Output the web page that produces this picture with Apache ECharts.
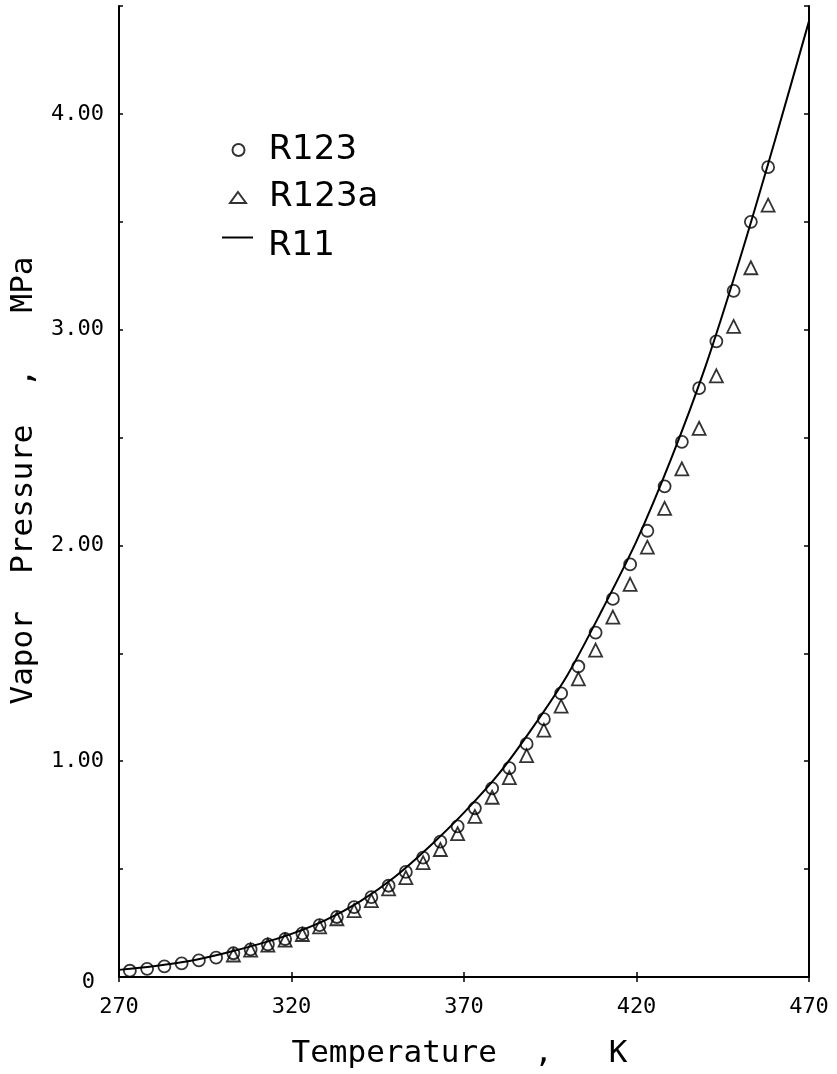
<!DOCTYPE html>
<html>
<head>
<meta charset="utf-8">
<script src="https://cdn.jsdelivr.net/npm/echarts@6/dist/echarts.min.js"></script>
<style>
html,body{margin:0;padding:0;background:#fff;}
#chart{width:837px;height:1074px;}
</style>
</head>
<body>
<div id="chart"></div>
<script>
// R123 (circles)
const r123T = [273.15, 278.15, 283.15, 288.15, 293.15, 298.15, 303.15, 308.15, 313.15, 318.15,
               323.15, 328.15, 333.15, 338.15, 343.15, 348.15, 353.15, 358.15, 363.15, 368.15,
               373.15, 378.15, 383.15, 388.15, 393.15, 398.15, 403.15, 408.15, 413.15, 418.15,
               423.15, 428.15, 433.15, 438.15, 443.15, 448.15, 453.15, 458.15];
const r123P = [0.029, 0.038, 0.049, 0.063, 0.077, 0.090, 0.110, 0.128, 0.151, 0.176,
               0.202, 0.240, 0.278, 0.324, 0.370, 0.423, 0.487, 0.553, 0.627, 0.698,
               0.782, 0.874, 0.968, 1.080, 1.195, 1.314, 1.439, 1.596, 1.752, 1.912,
               2.068, 2.274, 2.480, 2.729, 2.946, 3.180, 3.500, 3.753];
// R123a (triangles)
const r123aT = [303.15, 308.15, 313.15, 318.15, 323.15, 328.15, 333.15, 338.15, 343.15, 348.15,
                353.15, 358.15, 363.15, 368.15, 373.15, 378.15, 383.15, 388.15, 393.15, 398.15,
                403.15, 408.15, 413.15, 418.15, 423.15, 428.15, 433.15, 438.15, 443.15, 448.15,
                453.15, 458.15];
const r123aP = [0.102, 0.125, 0.148, 0.171, 0.197, 0.232, 0.270, 0.308, 0.354, 0.408,
                0.461, 0.530, 0.591, 0.664, 0.744, 0.833, 0.924, 1.026, 1.144, 1.255,
                1.382, 1.515, 1.668, 1.820, 1.992, 2.172, 2.355, 2.543, 2.786, 3.015,
                3.287, 3.577];
// R11 (line)
const r11T = [270, 280, 290, 300, 310, 320, 330, 340, 350, 360, 370,
              380, 390, 400, 410, 420, 430, 440, 450, 460, 470];
const r11P = [0.033, 0.050, 0.073, 0.108, 0.150, 0.200, 0.265, 0.352, 0.465, 0.605, 0.762,
              0.940, 1.158, 1.400, 1.700, 2.020, 2.400, 2.830, 3.330, 3.870, 4.430];

const xTicks = [270, 320, 370, 420, 470];
const yTickLabels = ['0', '1.00', '2.00', '3.00', '4.00'];
const seriesNames = ['R123', 'R123a', 'R11'];
const xTitle = 'Temperature  ,   K';
const yTitle = 'Vapor  Pressure  ,   MPa';

const zip = (a, b) => a.map((v, i) => [v, b[i]]);
const MONO = 'DejaVu Sans Mono';
const axisLineStyle = {color: '#000', width: 2};
const legendTextBase = {fontFamily: 'DejaVu Sans', fontSize: 34, color: '#000', lineHeight: 34};
const hollow = {color: 'rgba(0,0,0,0)', borderColor: '#000', borderWidth: 2};

const chart = echarts.init(document.getElementById('chart'), null, {renderer: 'canvas'});
chart.setOption({
  backgroundColor: '#fff',
  animation: false,
  grid: {left: 118, right: 28, top: 6, bottom: 85, containLabel: false},
  legend: [{
    orient: 'vertical', left: 231.5, top: 133, padding: 0,
    itemWidth: 12, itemHeight: 12, selectedMode: false, symbolKeepAspect: true,
    data: [{name: seriesNames[0], icon: 'circle'}],
    itemStyle: hollow,
    textStyle: Object.assign({}, legendTextBase, {padding: [0, 0, 0, 19]})
  }, {
    orient: 'vertical', left: 229, top: 180.5, padding: 0,
    itemWidth: 16, itemHeight: 11, selectedMode: false, symbolKeepAspect: false,
    data: [{name: seriesNames[1], icon: 'triangle'}],
    itemStyle: hollow,
    textStyle: Object.assign({}, legendTextBase, {padding: [0, 0, 0, 18]})
  }, {
    orient: 'vertical', left: 222, top: 229.5, padding: 0,
    itemWidth: 31, itemHeight: 20, selectedMode: false, symbolKeepAspect: false,
    data: [{name: seriesNames[2], icon: 'path://M0,0L31,0L31,2L0,2ZM0,20'}],
    itemStyle: {color: '#000', borderWidth: 0},
    lineStyle: {width: 0},
    textStyle: Object.assign({}, legendTextBase, {padding: [0, 0, 0, 10]})
  }],
  xAxis: [{
    type: 'value', position: 'bottom', min: xTicks[0], max: xTicks[xTicks.length - 1], interval: 50,
    axisLine: {show: true, lineStyle: axisLineStyle},
    axisTick: {show: true, inside: true, length: 5, lineStyle: {color: '#000', width: 1.5}},
    axisLabel: {show: true, fontFamily: MONO, fontSize: 22, color: '#000', margin: 19,
                showMinLabel: true, showMaxLabel: true},
    splitLine: {show: false},
    name: xTitle, nameLocation: 'middle', nameGap: 61,
    nameTextStyle: {fontFamily: MONO, fontSize: 31, color: '#000', padding: [0, 9, 0, 0]}
  }, {
    type: 'value', position: 'top', min: xTicks[0], max: xTicks[xTicks.length - 1], interval: 50,
    axisLine: {show: true, lineStyle: axisLineStyle},
    axisTick: {show: true, inside: true, length: 5, lineStyle: {color: '#000', width: 1.5}},
    axisLabel: {show: false},
    splitLine: {show: false}
  }],
  yAxis: [{
    type: 'value', position: 'left', min: 0, max: 4.5, interval: 0.5,
    axisLine: {show: true, lineStyle: axisLineStyle},
    axisTick: {show: true, inside: true, length: 4, lineStyle: {color: '#000', width: 1.5}},
    axisLabel: {
      show: true, fontFamily: MONO, fontSize: 22, color: '#000', margin: 15,
      formatter: function (v) {
        if (Math.abs(v) < 1e-9) return '{z|' + yTickLabels[0] + '}';
        const k = Math.round(v);
        if (Math.abs(v - k) < 1e-9 && k < yTickLabels.length) return yTickLabels[k];
        return '';
      },
      rich: {z: {fontFamily: MONO, fontSize: 22, color: '#000', padding: [10, 9, 0, 0]}}
    },
    splitLine: {show: false},
    name: yTitle, nameLocation: 'middle', nameGap: 80, nameRotate: 90,
    nameTextStyle: {fontFamily: MONO, fontSize: 31, color: '#000', padding: [0, 0, 0, 22]}
  }, {
    type: 'value', position: 'right', min: 0, max: 4.5, interval: 0.5,
    axisLine: {show: true, lineStyle: axisLineStyle},
    axisTick: {show: true, inside: true, length: 5, lineStyle: {color: '#000', width: 1.5}},
    axisLabel: {show: false},
    splitLine: {show: false}
  }],
  series: [{
    name: seriesNames[0], type: 'scatter', xAxisIndex: 0, yAxisIndex: 0,
    data: zip(r123T, r123P), symbol: 'circle', symbolSize: 12,
    itemStyle: {color: 'rgba(0,0,0,0)', borderColor: '#000', borderWidth: 1.8}
  }, {
    name: seriesNames[1], type: 'scatter', xAxisIndex: 0, yAxisIndex: 0,
    data: zip(r123aT, r123aP), symbol: 'triangle', symbolSize: 13,
    itemStyle: {color: 'rgba(0,0,0,0)', borderColor: '#000', borderWidth: 1.8}
  }, {
    name: seriesNames[2], type: 'line', xAxisIndex: 0, yAxisIndex: 0,
    data: zip(r11T, r11P), smooth: 0.3, symbol: 'none', showSymbol: false,
    lineStyle: {color: '#000', width: 2},
    itemStyle: {color: '#000'}
  }]
});
</script>
</body>
</html>
